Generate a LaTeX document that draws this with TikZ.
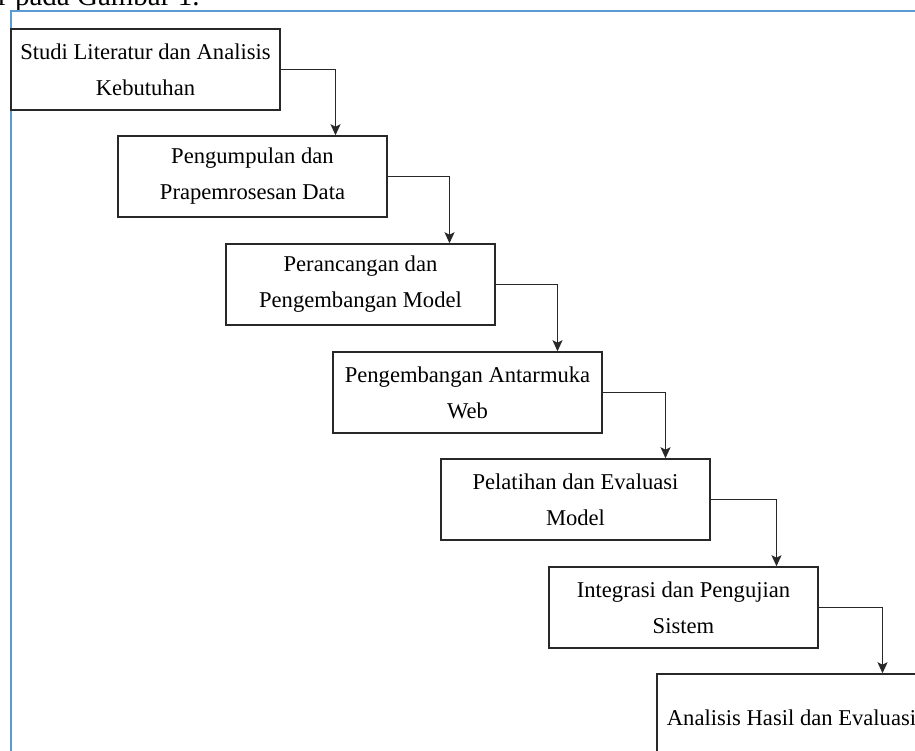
\documentclass[tikz,border=0pt]{standalone}
\usepackage{fontspec}
\setmainfont{Liberation Serif}
\usetikzlibrary{arrows.meta}
\definecolor{frameblue}{RGB}{91,155,213}
\definecolor{boxline}{RGB}{40,40,40}
\begin{document}
\begin{tikzpicture}[x=1pt,y=-1pt]
        \tikzstyle{stage}=[rectangle,draw=boxline,line width=1.5pt,fill=white,minimum width=269pt,minimum height=81pt,align=center,inner sep=0pt,font=\fontsize{22.6}{36}\selectfont]
        \tikzstyle{edge}=[draw=boxline,line width=1.5pt,-{Stealth[length=11pt,width=10pt,inset=2.5pt]}]
        \useasboundingbox (0,0) rectangle (915,751);
       \begin{scope}
         % caption text cut off by the page
         \node [anchor=base west,inner sep=0pt,font=\fontsize{29}{34}\selectfont] (cap) at (-2,6) {r pada Gambar 1.};
         \draw [frameblue,line width=2pt] (11,11) rectangle (960,800);
         \node [stage] (p1) at (145.5,69.5) {Studi Literatur dan Analisis\\Kebutuhan};
         \node [stage] (p2) at (252.5,176.5) {Pengumpulan dan\\Prapemrosesan Data};
         \node [stage] (p3) at (360.5,284.5) {Perancangan dan\\Pengembangan Model};
         \node [stage] (p4) at (467.5,392.5) {Pengembangan Antarmuka\\Web};
         \node [stage] (p5) at (575.5,499.5) {Pelatihan dan Evaluasi\\Model};
         \node [stage] (p6) at (683.5,607.5) {Integrasi dan Pengujian\\Sistem};
         \node [stage,minimum height=88pt] (p7) at (791.5,718) {Analisis Hasil dan Evaluasi};
         \path[edge] (p1.east) -| ([xshift=83pt]p2.north);
         \path[edge] (p2.east) -| ([xshift=89pt]p3.north);
         \path[edge] (p3.east) -| ([xshift=90pt]p4.north);
         \path[edge] (p4.east) -| ([xshift=90pt]p5.north);
         \path[edge] (p5.east) -| ([xshift=93pt]p6.north);
         \path[edge] (p6.east) -| ([xshift=91pt]p7.north);
        \end{scope}
      \end{tikzpicture}
\end{document}
